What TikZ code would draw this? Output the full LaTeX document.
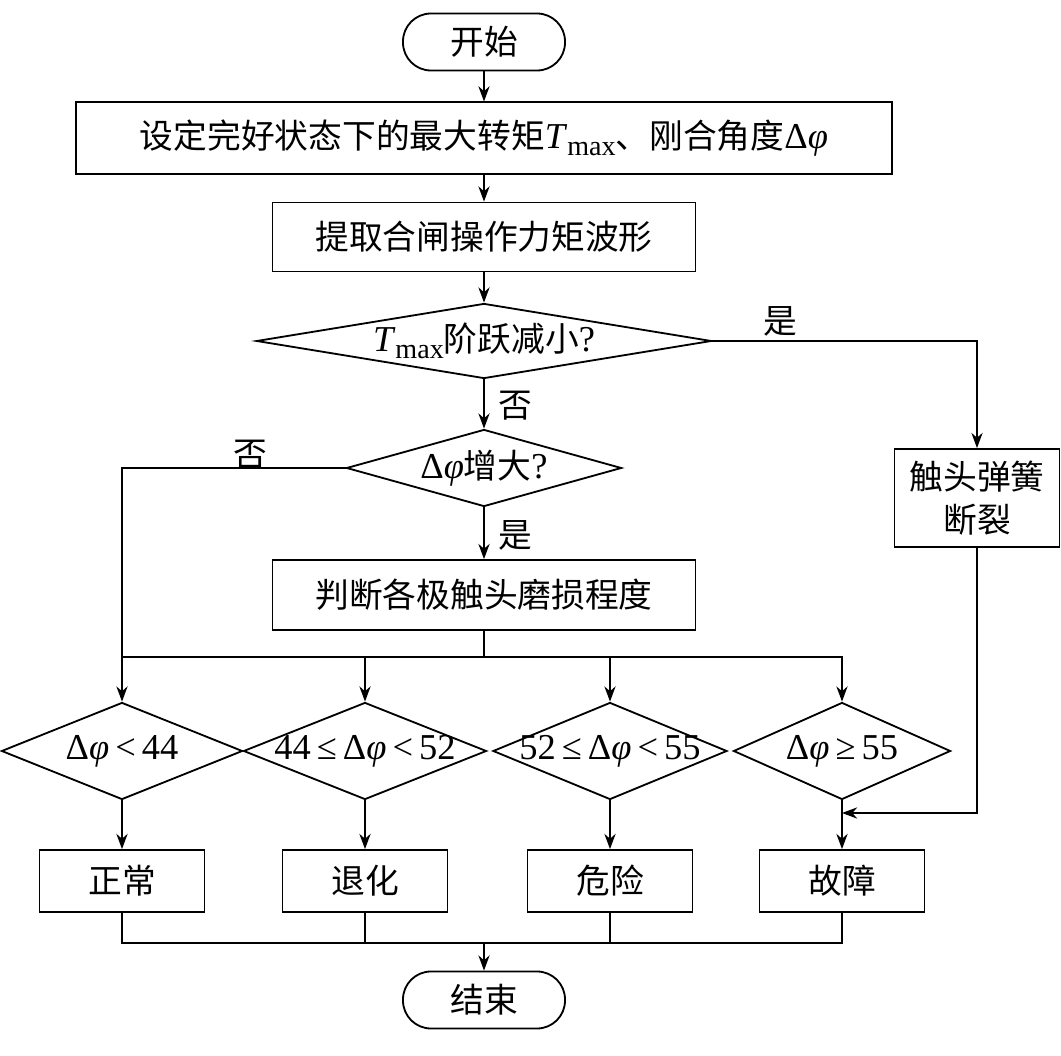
\documentclass[tikz,border=0pt]{standalone}
\usepackage{fontspec}
\setmainfont{Liberation Serif}[Scale=1.08]
\newfontfamily\cjk{Noto Sans CJK SC}
\usetikzlibrary{shapes.geometric,arrows.meta}
\newcommand{\Tmax}{{\rmfamily\textit{T}\raisebox{-0.45ex}{\fontsize{18.5}{19}\selectfont max}}}
\newcommand{\dphi}{{\rmfamily Δ\textit{φ}}}
\newcommand{\nobox}[1]{\makebox[0pt]{#1}}
\begin{document}
\begin{tikzpicture}[x=0.025cm,y=-0.025cm,line width=1.3pt,
    font=\fontsize{24}{31}\selectfont\cjk,
    >={Stealth[length=0.38cm,width=0.28cm]},
    term/.style={draw,rectangle,rounded corners=0.7cm,minimum width=4.05cm,minimum height=1.425cm},
    proc/.style 2 args={draw,rectangle,minimum width=#1,minimum height=#2},
    cond/.style 2 args={draw,diamond,inner sep=0pt,aspect=1,minimum width=#1,minimum height=#2}]
  \useasboundingbox (0,0) rectangle (1061,1056);
  \node[term] (start) at (484,42) {开始};
  \node[proc={20.4cm}{1.78cm}] (set) at (484,138) {设定完好状态下的最大转矩\Tmax{}、刚合角度\dphi};
  \node[proc={10.575cm}{1.725cm}] (extract) at (484,237) {提取合闸操作力矩波形};
  \node[cond={11.375cm}{1.875cm}] (jump) at (484,341) {\nobox{\Tmax{}阶跃减小{\rmfamily ?}}};
  \node[cond={6.875cm}{1.925cm}] (incr) at (484,468) {\nobox{\dphi{}增大{\rmfamily ?}}};
  \node[proc={10.575cm}{1.75cm}] (judge) at (484,595) {判断各极触头磨损程度};
  \node[proc={4.125cm}{2.45cm},align=center] (spring) at (977,498) {触头弹簧\\断裂};
  \node[cond={6.025cm}{2.425cm}] (c1) at (122,751) {\nobox{\dphi{\rmfamily\,<\,44}}};
  \node[cond={6.075cm}{2.425cm}] (c2) at (365,751) {\nobox{{\rmfamily 44\,≤\,}\dphi{\rmfamily\,<\,52}}};
  \node[cond={5.85cm}{2.425cm}] (c3) at (610,751) {\nobox{{\rmfamily 52\,≤\,}\dphi{\rmfamily\,<\,55}}};
  \node[cond={5.425cm}{2.425cm}] (c4) at (842,751) {\nobox{\dphi{\rmfamily\,≥\,55}}};
  \node[proc={4.125cm}{1.55cm}] (r1) at (122,881) {正常};
  \node[proc={4.125cm}{1.55cm}] (r2) at (365,881) {退化};
  \node[proc={4.125cm}{1.55cm}] (r3) at (610,881) {危险};
  \node[proc={4.125cm}{1.55cm}] (r4) at (842,881) {故障};
  \node[term] (stop) at (484,1000) {结束};
  \node (yes1) at (780,321) {是};
  \node (no1) at (515,406) {否};
  \node (no2) at (250,455) {否};
  \node (yes2) at (515,535) {是};
  \coordinate (bus) at (484,657);
  \coordinate (join) at (842,813);
  \coordinate (bus2) at (484,943);
  \begin{scope}[->]
    \draw (start) -- (set);
    \draw (set) -- (extract);
    \draw (extract) -- (jump);
    \draw (jump.east) -| (spring.north);
    \draw (jump) -- (incr);
    \draw (incr.west) -| (c1.north);
    \draw (incr) -- (judge);
    \draw (bus) -| (c2.north);
    \draw (bus) -| (c3.north);
    \draw (bus) -| (c4.north);
    \draw (c1) -- (r1);
    \draw (c2) -- (r2);
    \draw (c3) -- (r3);
    \draw (c4) -- (r4);
    \draw (spring.south) |- (join);
    \draw (bus2) -- (stop);
  \end{scope}
  \draw (judge) -- (bus) -- (bus -| c1);
  \draw (r1.south) |- (bus2) -| (r4.south);
  \draw (r2.south) -- (r2 |- bus2);
  \draw (r3.south) -- (r3 |- bus2);
\end{tikzpicture}
\end{document}
